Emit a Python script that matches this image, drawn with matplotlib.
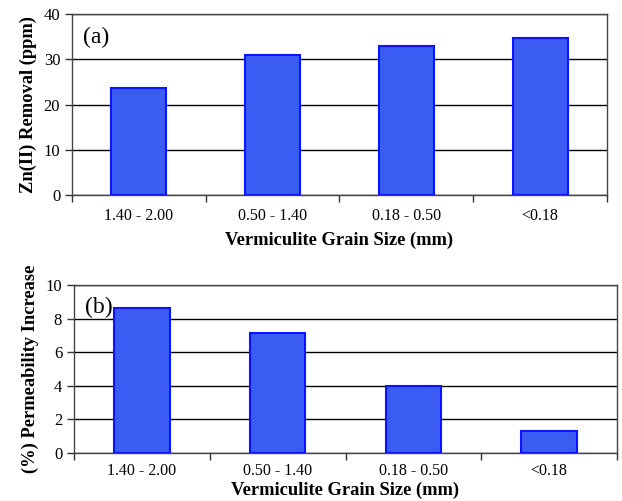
import numpy as np
import matplotlib.pyplot as plt

plt.rcParams['font.family'] = 'Liberation Serif'

# data
grain_sizes = ["1.40 - 2.00", "0.50 - 1.40", "0.18 - 0.50", "<0.18"]
zn_removal = [23.7, 30.9, 32.9, 34.6]
perm_increase = [8.65, 7.15, 3.98, 1.32]

fill_col = "#3a5cf2"
edge_col = "#0a14ff"

fig = plt.figure(figsize=(6.22, 5.01), dpi=100)
ax1 = fig.add_axes([72/622, 1-195/501, (607-72)/622, (195-14)/501])
ax2 = fig.add_axes([74/622, 1-453/501, (617-74)/622, (453-285)/501])

def draw(ax, vals, ymax, ystep, panel, ylabel, tpad, xpad):
    x = np.arange(len(grain_sizes))
    ax.set_axisbelow(True)
    ax.bar(x, vals, width=0.41, color=fill_col, edgecolor=edge_col, linewidth=1.5, zorder=3)
    ax.set_xlim(-0.5, len(grain_sizes)-0.5)
    ax.set_ylim(0, ymax)
    ax.set_yticks(np.arange(0, ymax+ystep/2, ystep))
    ax.yaxis.grid(True, color='black', linewidth=1.0)
    ax.set_xticks(x)
    ax.set_xticklabels(grain_sizes, fontsize=11.5)
    ax.set_xticks(np.arange(-0.5, len(grain_sizes)), minor=True)
    ax.tick_params(axis='x', which='major', length=0, pad=tpad)
    ax.tick_params(axis='x', which='minor', length=5, width=1, color='#333333')
    ax.tick_params(axis='y', length=5, width=1, labelsize=12, color='#333333')
    for s in ax.spines.values():
        s.set_color('#444444')
        s.set_linewidth(1.0)
    ax.set_xlabel("Vermiculite Grain Size (mm)", fontsize=13.3, fontweight='bold', labelpad=xpad)
    ax.set_ylabel(ylabel, fontsize=13.3, fontweight='bold', labelpad=5)
    ax.text(0.02, 0.93, panel, transform=ax.transAxes, fontsize=17, va='top', ha='left')

draw(ax1, zn_removal, 40, 10, "(a)", "Zn(II) Removal (ppm)", 9, 6)
draw(ax2, perm_increase, 10, 2, "(b)", "(%) Permeability Increase", 7, 2)

fig.savefig("out.png", dpi=100)
